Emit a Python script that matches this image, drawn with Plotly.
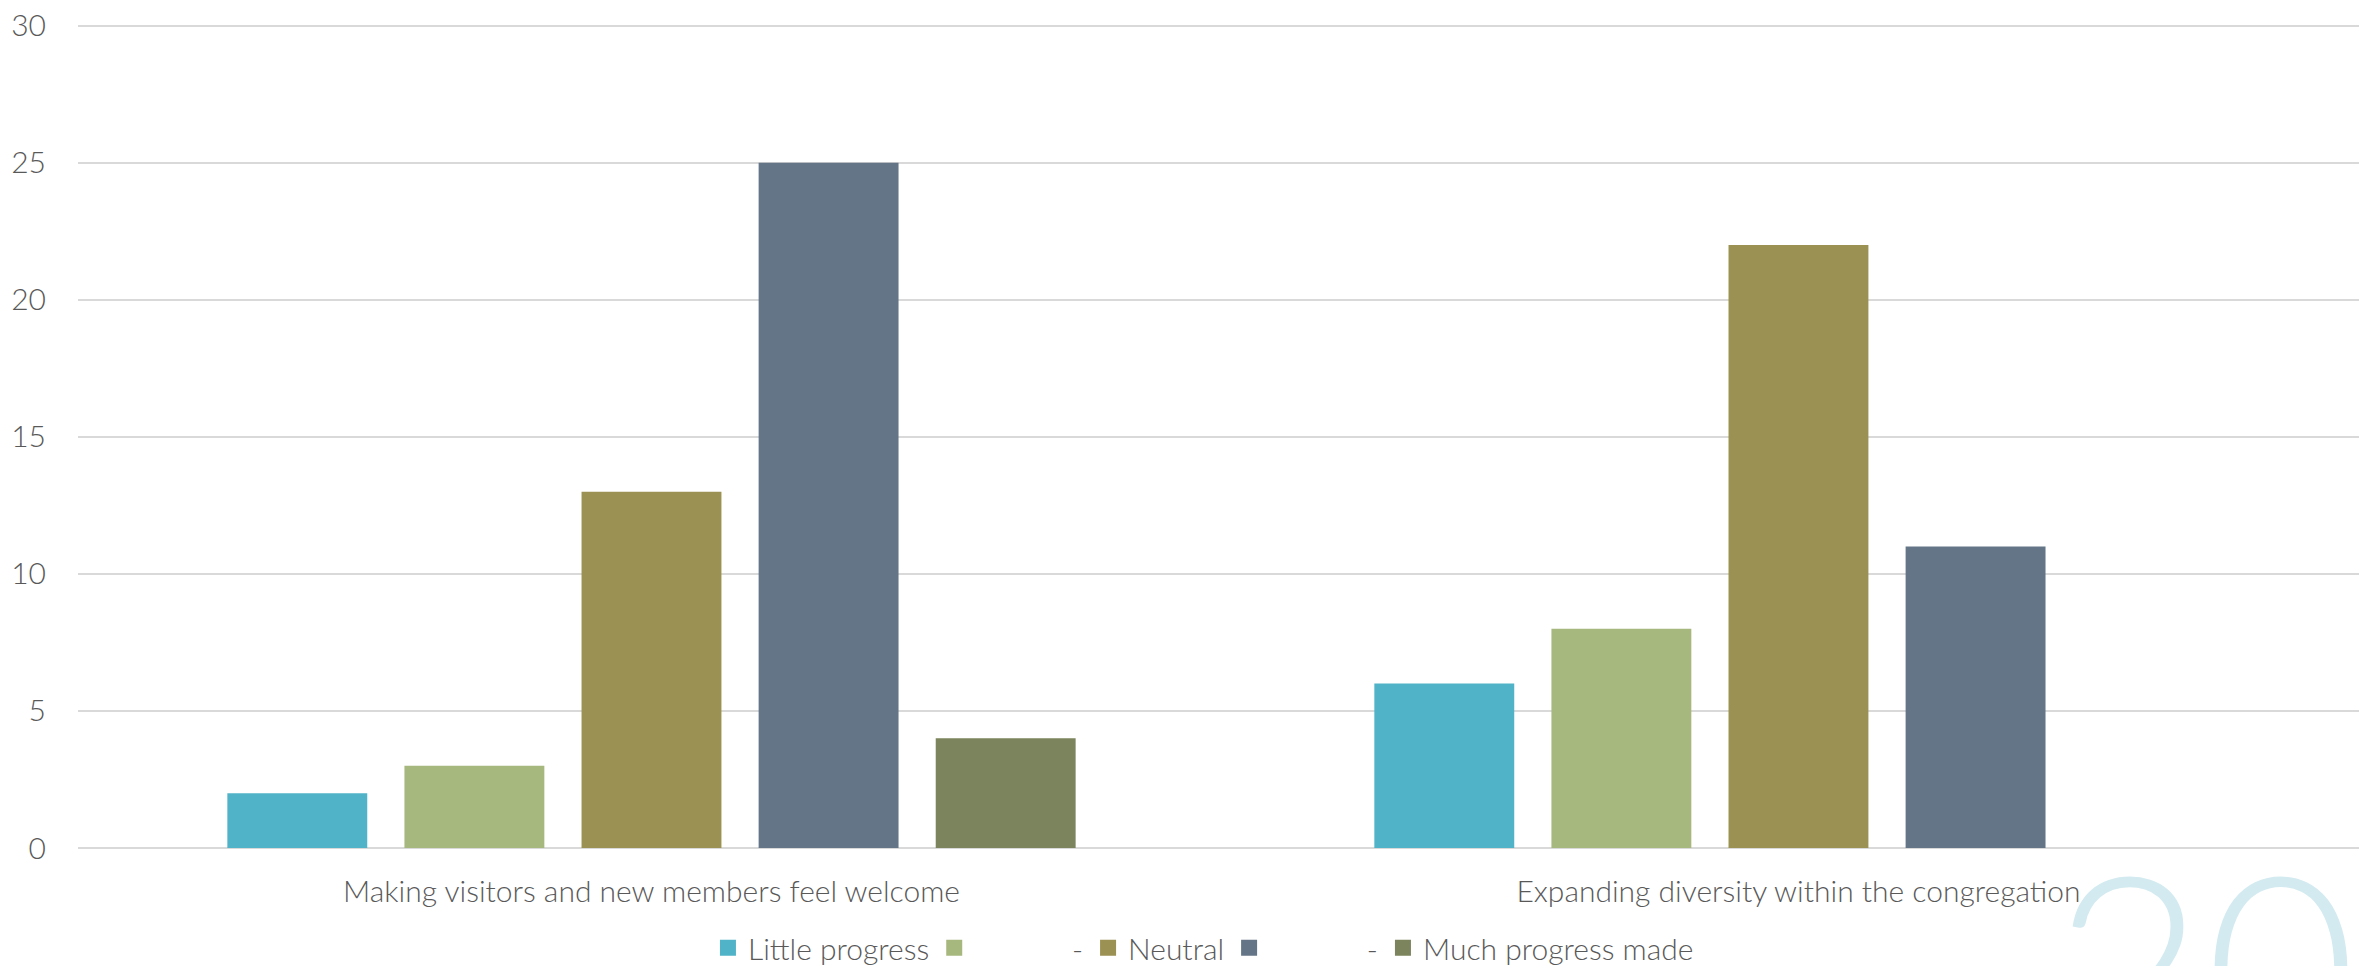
import plotly.graph_objects as go

# Survey responses: how much progress the congregation has made
categories = [
    "Making visitors and new members feel welcome",
    "Expanding diversity within the congregation",
]
series_names = [
    "Little progress",
    "\u00a0" * 12 + "-",
    "Neutral",
    "\u00a0" * 12 + "-",
    "Much progress made",
]
series_values = [
    [2, 6],
    [3, 8],
    [13, 22],
    [25, 11],
    [4, None],
]
series_colors = ["#50b3c8", "#a7b87f", "#9b9153", "#647587", "#7b845d"]
y_ticks = [0, 5, 10, 15, 20, 25, 30]

FONT = "Lato"
TEXT = "#595959"
FSIZE = 30

fig = go.Figure()
for name, vals, col in zip(series_names, series_values, series_colors):
    fig.add_trace(go.Bar(
        x=categories, y=vals, name=name, showlegend=False,
        marker=dict(color=col, line=dict(width=0)),
    ))
# Legend entries with larger square swatches
for name, col in zip(series_names, series_colors):
    fig.add_trace(go.Scatter(
        x=[None], y=[None], name=name, mode="markers",
        marker=dict(symbol="square", size=16, color=col),
    ))

fig.update_layout(
    width=2359, height=966,
    margin=dict(l=78, r=0, t=23, b=118, autoexpand=False),
    paper_bgcolor="white", plot_bgcolor="white",
    barmode="group", bargap=0.228, bargroupgap=0.21,
    font=dict(family=FONT, size=FSIZE, color=TEXT, weight=300),
    showlegend=True,
    legend=dict(
        orientation="h", x=0.4934, xanchor="center", y=-0.121, yanchor="middle",
        font=dict(family=FONT, size=FSIZE, color=TEXT, weight=300),
        itemwidth=30, traceorder="normal", itemsizing="trace",
    ),
    xaxis=dict(
        range=[-0.5, 1.4887], showgrid=False, zeroline=False, showline=False,
        ticks="outside", ticklen=17, tickcolor="rgba(0,0,0,0)",
        tickfont=dict(family=FONT, size=FSIZE, color=TEXT, weight=300),
    ),
    yaxis=dict(
        range=[0, 30.1], tickvals=y_ticks, showgrid=True, gridcolor="#d9d9d9",
        gridwidth=1.5, zeroline=True, zerolinecolor="#d9d9d9", zerolinewidth=2,
        showline=False, ticks="outside", ticklen=25, tickcolor="rgba(0,0,0,0)",
        tickfont=dict(family=FONT, size=FSIZE, color=TEXT, weight=300),
    ),
)

# Large faint page number in the lower-right corner
fig.add_annotation(
    text="20", xref="paper", yref="paper", x=1.0, y=0.054,
    xanchor="right", yanchor="top", showarrow=False,
    font=dict(family=FONT, size=262, color="#d3ebf0", weight=300),
)

fig.write_html("out.html")
